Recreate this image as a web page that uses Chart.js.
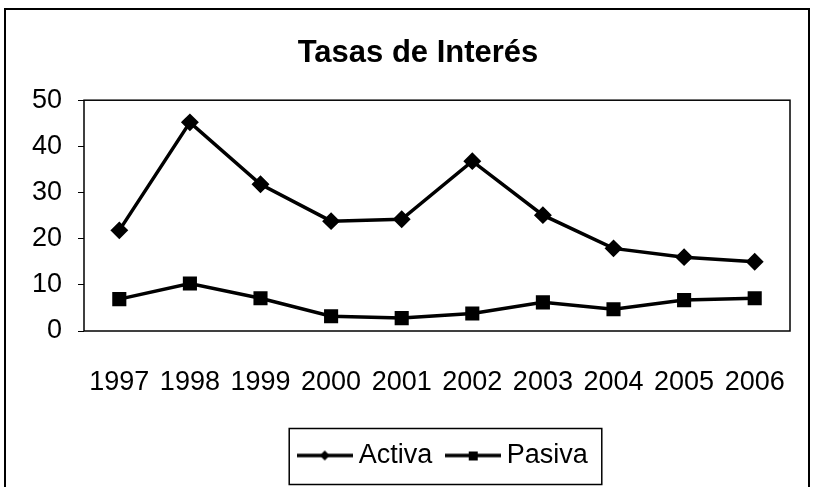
<!DOCTYPE html>
<html>
<head>
<meta charset="utf-8">
<title>Tasas de Interés</title>
<script src="https://cdn.jsdelivr.net/npm/chart.js@4/dist/chart.umd.min.js"></script>
<style>
  body { margin: 0; background: #fff; }
  canvas { display: block; }
</style>
</head>
<body>
<canvas id="myChart" width="817" height="487"></canvas>
<script>
const years = ['1997', '1998', '1999', '2000', '2001', '2002', '2003', '2004', '2005', '2006'];
const activa = [21.8, 45.2, 31.8, 23.8, 24.2, 36.8, 25.1, 17.9, 16.0, 15.0];
const pasiva = [6.9, 10.3, 7.1, 3.2, 2.8, 3.8, 6.2, 4.7, 6.7, 7.1];
const yTicks = [0, 10, 20, 30, 40, 50];

const fontName = '"Liberation Sans", Arial, sans-serif';

// little line + marker pictures for the legend
function legendIcon(shape) {
  const c = document.createElement('canvas');
  c.width = 56;
  c.height = 14;
  const ctx = c.getContext('2d');
  ctx.strokeStyle = '#000';
  ctx.lineWidth = 3.5;
  ctx.beginPath();
  ctx.moveTo(0, 7);
  ctx.lineTo(56, 7);
  ctx.stroke();
  ctx.fillStyle = '#000';
  if (shape === 'diamond') {
    ctx.beginPath();
    ctx.moveTo(28, 2);
    ctx.lineTo(33, 7);
    ctx.lineTo(28, 12);
    ctx.lineTo(23, 7);
    ctx.closePath();
    ctx.fill();
  } else {
    ctx.fillRect(24, 3, 9, 9);
  }
  return c;
}

const framePlugin = {
  id: 'framePlugin',
  beforeDraw(chart) {
    const ctx = chart.ctx;
    ctx.save();
    ctx.fillStyle = '#fff';
    ctx.fillRect(0, 0, chart.width, chart.height);
    ctx.restore();
  },
  afterLayout(chart) {
    // move title and legend over to where the original had them
    const t = chart.titleBlock;
    const tw = t.right - t.left;
    t.left = 418 - tw / 2;
    t.right = 418 + tw / 2;
    const l = chart.legend;
    const lw = l.right - l.left;
    l.left = 446 - lw / 2;
    l.right = 446 + lw / 2;
  },
  afterDraw(chart) {
    const ctx = chart.ctx;
    const a = chart.chartArea;
    ctx.save();
    ctx.strokeStyle = '#000';
    // outer frame
    ctx.lineWidth = 2;
    ctx.strokeRect(5, 9, 804, 490);
    // plot frame
    ctx.lineWidth = 1.5;
    ctx.strokeRect(a.left, a.top, a.right - a.left, a.bottom - a.top);
    // legend box
    const boxes = chart.legend.legendHitBoxes;
    if (boxes.length) {
      const first = boxes[0];
      const last = boxes[boxes.length - 1];
      const midY = first.top + first.height / 2;
      const x1 = first.left - 15;
      const x2 = last.left + last.width + 14;
      ctx.lineWidth = 1.5;
      ctx.strokeRect(x1, midY - 27, x2 - x1, 56);
    }
    ctx.restore();
  }
};

const data = {
  labels: years,
  datasets: [
    {
      label: 'Activa',
      data: activa,
      borderColor: '#000',
      backgroundColor: '#000',
      borderWidth: 3.5,
      pointStyle: 'rectRot',
      pointRadius: 6.5,
      pointHoverRadius: 6.5,
      tension: 0
    },
    {
      label: 'Pasiva',
      data: pasiva,
      borderColor: '#000',
      backgroundColor: '#000',
      borderWidth: 3.5,
      pointStyle: 'rect',
      pointRadius: 7.5,
      pointHoverRadius: 7.5,
      tension: 0
    }
  ]
};

const icons = [legendIcon('diamond'), legendIcon('square')];

const config = {
  type: 'line',
  data: data,
  options: {
    responsive: false,
    animation: false,
    layout: {
      padding: { left: 0, right: 27, top: 0, bottom: 8 }
    },
    plugins: {
      title: {
        display: true,
        text: 'Tasas de Interés',
        color: '#000',
        font: { family: fontName, size: 31, weight: 'bold' },
        padding: { top: 35, bottom: 28 }
      },
      legend: {
        position: 'bottom',
        labels: {
          color: '#000',
          font: { family: fontName, size: 27 },
          usePointStyle: true,
          pointStyleWidth: 41,
          padding: 20,
          generateLabels(chart) {
            return chart.data.datasets.map((ds, i) => ({
              text: ds.label,
              pointStyle: icons[i],
              fillStyle: '#000',
              strokeStyle: '#000',
              lineWidth: 0,
              fontColor: '#000',
              datasetIndex: i,
              hidden: false
            }));
          }
        }
      },
      tooltip: { enabled: false }
    },
    scales: {
      x: {
        offset: true,
        grid: { display: false, drawTicks: false },
        border: { display: false },
        ticks: {
          color: '#000',
          font: { family: fontName, size: 27 },
          padding: 35,
          maxRotation: 0,
          autoSkip: false
        },
        afterFit(scale) {
          scale.height = 91;
          scale.paddingLeft = 0;
          scale.paddingRight = 0;
        }
      },
      y: {
        min: 0,
        max: 50,
        grid: {
          drawOnChartArea: false,
          drawTicks: true,
          tickLength: 6,
          color: '#000'
        },
        border: { display: false },
        afterBuildTicks(scale) {
          scale.ticks = yTicks.map(v => ({ value: v }));
        },
        ticks: {
          color: '#000',
          font: { family: fontName, size: 27 },
          padding: 16
        },
        afterFit(scale) {
          scale.width = 84;
        }
      }
    }
  },
  plugins: [framePlugin]
};

const canvasChart = document.getElementById('myChart');
const myChart = new Chart(canvasChart, config);
</script>
</body>
</html>
